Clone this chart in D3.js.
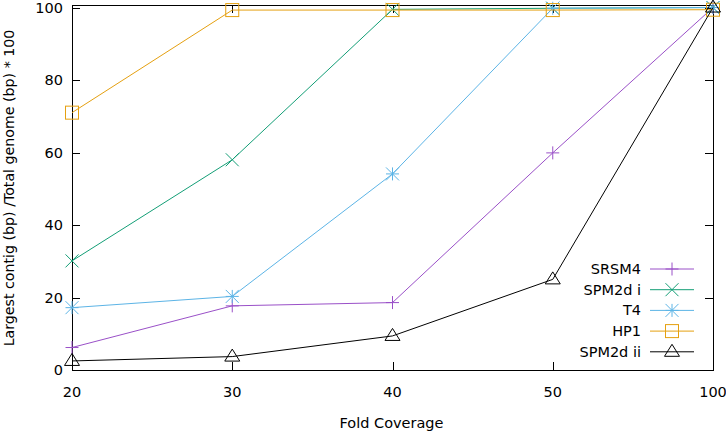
<!DOCTYPE html>
<html><head><meta charset="utf-8">
<script src="https://cdn.jsdelivr.net/npm/d3@7"></script>
<style>body{margin:0;background:#fff}svg{display:block}text{font-family:"DejaVu Sans",Verdana,sans-serif;fill:#000}</style>
</head><body>
<script>
const categories = ["20", "30", "40", "50", "100"];
const seriesNames = ["SRSM4", "SPM2d i", "T4", "HP1", "SPM2d ii"];
const srsm4 = [6.2, 17.7, 18.6, 59.9, 100];
const spm2dI = [30.1, 58.0, 99.5, 99.8, 100];
const t4 = [17.2, 20.3, 54.1, 99.8, 100];
const hp1 = [71.0, 99.3, 99.3, 99.3, 99.4];
const spm2dII = [2.5, 3.7, 9.4, 25.0, 100];
const yTicks = [0, 20, 40, 60, 80, 100];
const colors = ["#9a50c8", "#139e76", "#5cb4e6", "#e5a010", "#000000"];
const markers = ["plus", "cross", "star", "square", "triangle"];
const values = [srsm4, spm2dI, t4, hp1, spm2dII];

const W = 726, H = 432;
const m = {l: 72, r: 13, t: 5, b: 62};
const svg = d3.select("body").append("svg").attr("width", W).attr("height", H);
const x = d3.scalePoint().domain(categories).range([m.l, W - m.r]);
const y = d3.scaleLinear().domain([0, 100.7]).range([H - m.b, m.t]);
const pw = W - m.r - m.l, ph = H - m.b - m.t;
const fs = 14.5;

const g = svg.append("g");
g.append("rect").attr("x", m.l).attr("y", m.t).attr("width", pw).attr("height", ph)
  .attr("fill", "none").attr("stroke", "#000").attr("stroke-width", 1).attr("shape-rendering", "crispEdges");

const tl = 8;
yTicks.forEach(t => {
  const yy = Math.round(y(t)) + 0.5;
  g.append("line").attr("x1", m.l).attr("x2", m.l + tl).attr("y1", yy).attr("y2", yy).attr("stroke", "#000");
  g.append("line").attr("x1", W - m.r).attr("x2", W - m.r - tl).attr("y1", yy).attr("y2", yy).attr("stroke", "#000");
  g.append("text").attr("x", m.l - 9).attr("y", y(t)).attr("dy", "0.35em").attr("text-anchor", "end")
    .attr("font-size", fs).text(t);
});
categories.forEach(c => {
  const xx = Math.round(x(c)) + 0.5;
  g.append("line").attr("x1", xx).attr("x2", xx).attr("y1", H - m.b).attr("y2", H - m.b - tl).attr("stroke", "#000");
  g.append("line").attr("x1", xx).attr("x2", xx).attr("y1", m.t).attr("y2", m.t + tl).attr("stroke", "#000");
  g.append("text").attr("x", x(c)).attr("y", H - m.b + 22).attr("dy", "0.35em").attr("text-anchor", "middle")
    .attr("font-size", fs).text(c);
});

svg.append("text").attr("x", (m.l + W - m.r) / 2 - 1).attr("y", 423).attr("dy", "0.35em").attr("text-anchor", "middle")
  .attr("font-size", fs).text("Fold Coverage");
svg.append("text").attr("transform", `translate(9,188) rotate(-90)`).attr("dy", "0.35em")
  .attr("text-anchor", "middle").attr("font-size", 14.2).text("Largest contig (bp) /Total genome (bp) * 100");

function drawMarker(sel, type, cx, cy, color) {
  const s = 6.5;
  const p = sel.append("g").attr("stroke", color).attr("fill", "none").attr("stroke-width", 1);
  if (type === "plus" || type === "star") {
    p.append("line").attr("x1", cx - s).attr("x2", cx + s).attr("y1", cy).attr("y2", cy);
    p.append("line").attr("x1", cx).attr("x2", cx).attr("y1", cy - s).attr("y2", cy + s);
  }
  if (type === "cross" || type === "star") {
    p.append("line").attr("x1", cx - s).attr("x2", cx + s).attr("y1", cy - s).attr("y2", cy + s);
    p.append("line").attr("x1", cx - s).attr("x2", cx + s).attr("y1", cy + s).attr("y2", cy - s);
  }
  if (type === "square") {
    p.append("rect").attr("x", cx - s).attr("y", cy - s).attr("width", 2 * s).attr("height", 2 * s);
  }
  if (type === "triangle") {
    const h = 7.5;
    p.append("path").attr("d", `M${cx},${cy - h}L${cx + h},${cy + h * 0.6}L${cx - h},${cy + h * 0.6}Z`);
  }
}

const line = d3.line().x((d, i) => x(categories[i])).y(d => y(d));
values.forEach((vals, k) => {
  const sg = svg.append("g");
  sg.append("path").datum(vals).attr("d", line).attr("fill", "none").attr("stroke", colors[k]).attr("stroke-width", 1);
  vals.forEach((v, i) => drawMarker(sg, markers[k], x(categories[i]), y(v), colors[k]));
});

const lg = svg.append("g");
seriesNames.forEach((n, k) => {
  const ly = 269 + k * 20.7;
  lg.append("text").attr("x", 641).attr("y", ly).attr("dy", "0.35em").attr("text-anchor", "end").attr("font-size", fs).text(n);
  lg.append("line").attr("x1", 650).attr("x2", 694).attr("y1", ly).attr("y2", ly).attr("stroke", colors[k]);
  drawMarker(lg, markers[k], 672, ly, colors[k]);
});
</script>
</body></html>
